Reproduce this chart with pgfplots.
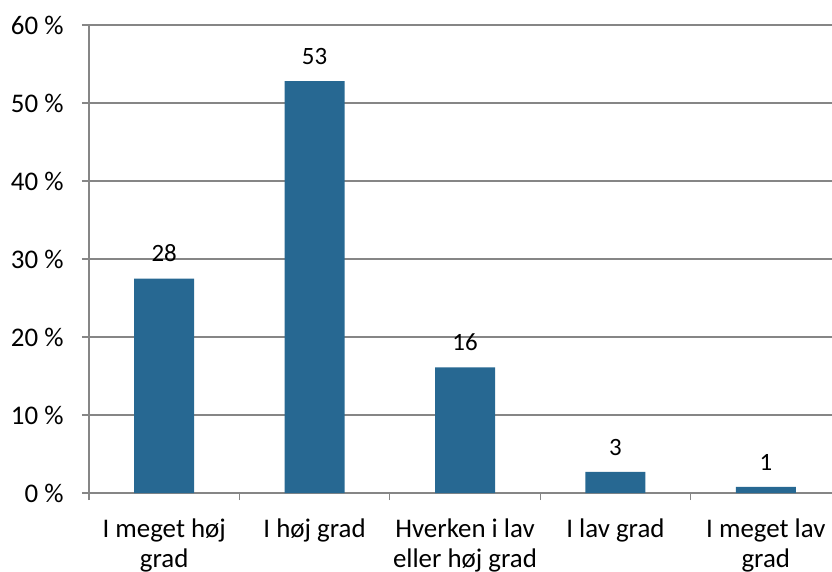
\documentclass[border=0pt]{standalone}
\usepackage{pgfplots}
\pgfplotsset{compat=1.18}
\usepackage{fontspec}
\setmainfont{Carlito}
\definecolor{barblue}{RGB}{39,104,146}
\definecolor{axgray}{RGB}{134,134,134}
\begin{document}
\begin{tikzpicture}
\begin{axis}[
  scale only axis, width=743bp, height=468bp,
  xmin=-0.5, xmax=4.44, ymin=0, ymax=60,
  axis x line*=bottom, axis y line*=left,
  axis line style={axgray, line width=1.5bp, -},
  ytick={0,10,...,60},
  yticklabels={0 \%,10 \%,20 \%,30 \%,40 \%,50 \%,60 \%},
  ymajorgrids, major grid style={axgray, line width=1.2bp},
  xtick={0,1,2,3,4},
  xticklabels={I meget høj\\grad, I høj grad, Hverken i lav\\eller høj grad, I lav grad, I meget lav\\grad},
  minor xtick={-0.5,0.5,1.5,2.5,3.5},
  tick align=outside, major tick length=7bp, minor tick length=7bp,
  tick style={axgray, line width=1.2bp},
  major x tick style={draw=none},
  xticklabel style={font=\fontsize{27}{30}\selectfont, text=black, align=center, yshift=-15bp},
  yticklabel style={font=\fontsize{27}{28}\selectfont, text=black, xshift=-15bp},
  ybar, bar width=60bp,
  nodes near coords, point meta=explicit symbolic,
  every node near coord/.append style={font=\fontsize{25}{26}\selectfont, text=black, yshift=13bp},
]
\addplot[fill=barblue, draw=none] coordinates {
  (0,27.5) [28]
  (1,52.8) [53]
  (2,16.1) [16]
  (3,2.7) [3]
  (4,0.8) [1]
};
\coordinate (O) at (rel axis cs:0,0);
\end{axis}
\pgfresetboundingbox
\path[use as bounding box] (O) ++(-89bp,-79bp) rectangle ++(832bp,572bp);
\end{tikzpicture}
\end{document}
